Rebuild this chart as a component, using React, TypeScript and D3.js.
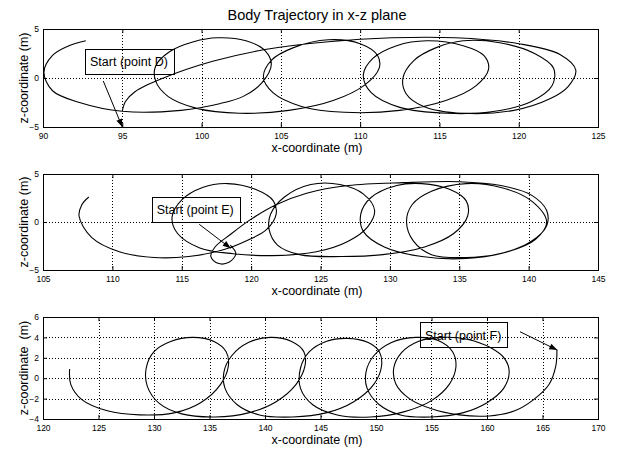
import React, { useEffect, useRef } from "react";
import * as d3 from "d3";

type Pt = [number, number];

const W = 618;
const H = 453;
const FONT = "'Liberation Sans', Arial, Helvetica, sans-serif";

// body path samples, [x, z] in metres
const trajD: Pt[] = [
  [95, -3.4], [95.2, -2.4], [95.8, -1.4], [97.6, 0], [100.7, 1.7], [104, 2.9], [108, 3.7],
  [112, 4.1], [116, 4.1], [120, 3.5], [122.6, 2.4], [123.6, 0.8], [123.1, -0.9], [122, -2.1],
  [119.7, -3.3], [116.5, -3.6], [114, -2.9], [112.9, -1.6], [112.7, 0], [113.4, 1.8],
  [114.8, 3.1], [116.5, 3.8], [118.8, 3.6], [121, 2.5], [122.2, 1.0], [122.1, -0.8],
  [120.8, -2.4], [118.5, -3.4], [115.5, -3.6], [112.5, -3.0], [110.7, -1.5], [110.2, 0.3],
  [110.8, 2.0], [112.3, 3.3], [114.2, 3.8], [116.5, 3.3], [117.8, 2.3], [118.1, 0.9],
  [117.3, -0.8], [115.4, -2.3], [112.5, -3.3], [109, -3.5], [106.3, -2.9], [104.5, -1.5],
  [103.9, 0.1], [104.4, 1.8], [105.8, 3.1], [108, 3.9], [110, 3.5], [111.1, 2.3], [111.2, 1.0],
  [110.3, -0.7], [108.3, -2.3], [105.5, -3.3], [102.4, -3.6], [99.7, -3.1], [97.9, -1.9],
  [97.1, -0.3], [97.1, 1.2], [98, 2.7], [99.5, 3.7], [101, 4.1], [102.8, 3.8], [104, 2.8],
  [104.4, 1.4], [103.8, -0.5], [102.6, -1.9], [101.2, -2.6], [98.7, -3.3], [95, -3.4],
  [92.3, -2.5], [90.6, -1.3], [90.06, 0.6], [90.6, 2.3], [91.5, 3.2], [92.7, 3.8],
];

const trajE: Pt[] = [
  [118.5, -2.4], [118.9, -3.3], [118.4, -4.2], [117.6, -4.3], [117.1, -3.6], [117.4, -2.6],
  [118.5, -1.3], [120, 0.3], [121.8, 1.8], [124, 3.0], [127, 3.8], [131, 4.1], [135, 4.2],
  [138, 3.8], [140.2, 2.8], [141.3, 1.2], [141.3, -0.4], [140.2, -2.0], [138.2, -3.2],
  [135.5, -3.7], [133, -3.4], [131.7, -2], [131.2, 0], [131.6, 1.8], [133, 3.2], [135.5, 4.0],
  [138, 3.6], [140.2, 2.2], [141.3, 0], [140.5, -1.8], [138.5, -3.1], [135.5, -3.8],
  [132.3, -3.6], [129.6, -2.6], [128.1, -1.0], [127.9, 0.8], [128.6, 2.5], [130.5, 3.8],
  [132.3, 4.0], [134.3, 3.4], [135.5, 2.2], [135.6, 0.6], [134.6, -1.2], [132.5, -2.6],
  [129.5, -3.4], [126.5, -3.6], [123.5, -3.4], [121.9, -2.4], [121.3, -0.8], [121.4, 0.8],
  [122.4, 2.6], [124.3, 3.9], [126.4, 3.9], [128.1, 2.9], [128.9, 1.2], [128.4, -0.5],
  [127, -2.0], [124.7, -3.1], [121.5, -3.5], [118.7, -3.3], [116.3, -2.7], [114.7, -1.2],
  [114.3, 0.5], [115, 2.3], [116.5, 3.6], [118.3, 4.0], [120.3, 3.4], [121.6, 2.2],
  [121.8, 0.8], [121.1, -0.8], [119.9, -1.8], [118, -2.9], [115.5, -3.6], [113, -3.7],
  [110.5, -3.1], [108.5, -1.6], [107.6, 0.6], [107.8, 1.8], [108.3, 2.6],
];

const trajF: Pt[] = [
  [166.3, 2.8], [166.2, 1.2], [165.6, -0.6], [164.2, -2.1], [162.5, -3.2], [160.2, -3.7],
  [157.5, -3.6], [155, -3.0], [153, -2], [151.8, -0.6], [151.6, 1.0], [152.3, 2.5],
  [153.8, 3.6], [156, 4.0], [158.3, 3.8], [160.3, 3.0], [161.6, 1.9], [162, 0.6],
  [161.5, -1], [160, -2.4], [157.8, -3.4], [155, -3.8], [152.2, -3.6], [150.3, -2.6],
  [149.2, -1], [149.1, 0.6], [149.8, 2.2], [151.4, 3.5], [153.6, 4.0], [155.6, 3.7],
  [156.9, 2.6], [157.2, 1.1], [156.6, -0.6], [155, -2.2], [152.5, -3.3], [149.5, -3.8],
  [146.5, -3.6], [144.3, -2.6], [143.2, -1.0], [143.2, 1.0], [144, 2.6], [145.5, 3.6],
  [147.4, 3.9], [149.3, 3.5], [150.3, 2.6], [150.5, 1.2], [149.8, -0.6], [148, -2.3],
  [145.5, -3.4], [142.5, -3.8], [139.5, -3.6], [137.5, -2.6], [136.4, -1.0], [136.3, 0.6],
  [137, 2.2], [138.5, 3.5], [140.5, 4.0], [142.4, 3.6], [143.5, 2.6], [143.6, 1.2],
  [142.8, -0.6], [141, -2.3], [138.5, -3.4], [135.5, -3.8], [132.5, -3.5], [130.5, -2.5],
  [129.4, -0.8], [129.3, 1.0], [130, 2.6], [131.5, 3.6], [133.5, 4.0], [135.4, 3.6],
  [136.5, 2.6], [136.7, 1.2], [136, -0.6], [134.2, -2.4], [131.8, -3.4], [128.7, -3.6],
  [125.8, -3.2], [123.5, -2.1], [122.5, -0.6], [122.4, 0.9],
];

const xTicksD = [90, 95, 100, 105, 110, 115, 120, 125];
const xTicksE = [105, 110, 115, 120, 125, 130, 135, 140, 145];
const xTicksF = [120, 125, 130, 135, 140, 145, 150, 155, 160, 165, 170];
const zTicksDE = [-5, 0, 5];
const zTicksF = [-4, -2, 0, 2, 4, 6];

const startLabels = ["Start (point D)", "Start (point E)", "Start (point F)"];
// box top-left, arrow tail and arrow tip, in data units
const boxAt: Pt[] = [[92.65, 2.96], [112.83, 2.64], [153.96, 5.48]];
const arrowTail: Pt[] = [[93.8, -0.3], [116.26, -0.24], [162.97, 4.56]];
const arrowTip: Pt[] = [[95, -5], [118.53, -2.74], [166.33, 2.76]];

const panels = [
  { traj: trajD, xTicks: xTicksD, zTicks: zTicksDE, yLabel: "z-coordinate (m)" },
  { traj: trajE, xTicks: xTicksE, zTicks: zTicksDE, yLabel: "z-coordinate (m)" },
  { traj: trajF, xTicks: xTicksF, zTicks: zTicksF, yLabel: "z-coordinate  (m)" },
];

const layout = [
  { top: 29, bottom: 127 },
  { top: 174, bottom: 270 },
  { top: 317, bottom: 419 },
];

const App = () => {
  const ref = useRef<SVGSVGElement>(null);

  useEffect(() => {
    if (!ref.current) return;
    const svg = d3.select(ref.current);
    svg.selectAll("*").remove();

    svg.append("rect").attr("width", W).attr("height", H).attr("fill", "#fff");

    svg
      .append("text")
      .attr("x", 317)
      .attr("y", 20)
      .attr("text-anchor", "middle")
      .style("font", `14.5px ${FONT}`)
      .text("Body Trajectory in x-z plane");

    const ctx = document.createElement("canvas").getContext("2d")!;
    ctx.font = `12.5px ${FONT}`;

    const left = 43;
    const right = 598;

    panels.forEach((p, i) => {
      const { top, bottom } = layout[i];
      const xd = d3.extent(p.xTicks) as [number, number];
      const zd = d3.extent(p.zTicks) as [number, number];
      const x = d3.scaleLinear().domain(xd).range([left, right]);
      const z = d3.scaleLinear().domain(zd).range([bottom, top]);
      const g = svg.append("g");

      // dotted grid
      g.selectAll(".gx")
        .data(p.xTicks.slice(1, -1))
        .join("line")
        .attr("x1", (d) => Math.round(x(d)) + 0.5)
        .attr("x2", (d) => Math.round(x(d)) + 0.5)
        .attr("y1", top)
        .attr("y2", bottom)
        .attr("stroke", "#000")
        .attr("stroke-width", 1)
        .attr("stroke-dasharray", "1,2");
      g.selectAll(".gz")
        .data(p.zTicks.slice(1, -1))
        .join("line")
        .attr("x1", left)
        .attr("x2", right)
        .attr("y1", (d) => Math.round(z(d)) + 0.5)
        .attr("y2", (d) => Math.round(z(d)) + 0.5)
        .attr("stroke", "#000")
        .attr("stroke-width", 1)
        .attr("stroke-dasharray", "1,2");

      // axes, ticks pointing inward
      const styleAxis = (a: d3.Selection<SVGGElement, unknown, null, undefined>) => {
        a.select(".domain").remove();
        a.selectAll("line").attr("stroke", "#000");
        a.attr("font-family", FONT).attr("font-size", 8.5);
      };
      g.append("g")
        .attr("transform", `translate(0,${bottom})`)
        .call(d3.axisBottom(x).tickValues(p.xTicks).tickSizeInner(-4).tickSizeOuter(0).tickPadding(6).tickFormat(d3.format("d")))
        .call(styleAxis);
      g.append("g")
        .attr("transform", `translate(0,${top})`)
        .call(d3.axisTop(x).tickValues(p.xTicks).tickSizeInner(-4).tickSizeOuter(0).tickFormat(() => ""))
        .call(styleAxis);
      g.append("g")
        .attr("transform", `translate(${left},0)`)
        .call(d3.axisLeft(z).tickValues(p.zTicks).tickSizeInner(-4).tickSizeOuter(0).tickPadding(4).tickFormat(d3.format("d")))
        .call(styleAxis);
      g.append("g")
        .attr("transform", `translate(${right},0)`)
        .call(d3.axisRight(z).tickValues(p.zTicks).tickSizeInner(-4).tickSizeOuter(0).tickFormat(() => ""))
        .call(styleAxis);

      g.append("rect")
        .attr("x", left + 0.5)
        .attr("y", top + 0.5)
        .attr("width", right - left)
        .attr("height", bottom - top)
        .attr("fill", "none")
        .attr("stroke", "#000")
        .attr("stroke-width", 1);

      // trajectory
      const line = d3
        .line<Pt>()
        .x((d) => x(d[0]))
        .y((d) => z(d[1]))
        .curve(d3.curveCatmullRom.alpha(0.5));
      g.append("path")
        .attr("d", line(p.traj))
        .attr("fill", "none")
        .attr("stroke", "#000")
        .attr("stroke-width", 1.1);

      // labels
      g.append("text")
        .attr("x", 317)
        .attr("y", bottom + 24.5)
        .attr("text-anchor", "middle")
        .style("font", `12.5px ${FONT}`)
        .text("x-coordinate (m)");
      g.append("text")
        .attr("transform", `translate(28,${(top + bottom) / 2}) rotate(-90)`)
        .attr("text-anchor", "middle")
        .style("font", `12.5px ${FONT}`)
        .style("white-space", "pre")
        .text(p.yLabel);

      // start annotation
      const label = startLabels[i];
      const bx = x(boxAt[i][0]);
      const by = z(boxAt[i][1]);
      const bw = ctx.measureText(label).width + 11;
      g.append("rect")
        .attr("x", Math.round(bx) + 0.5)
        .attr("y", Math.round(by) + 0.5)
        .attr("width", Math.round(bw))
        .attr("height", 25)
        .attr("fill", "none")
        .attr("stroke", "#000")
        .attr("stroke-width", 1);
      g.append("text")
        .attr("x", bx + 5)
        .attr("y", by + 17.5)
        .style("font", `12.5px ${FONT}`)
        .text(label);

      const [tx0, ty0] = [x(arrowTail[i][0]), z(arrowTail[i][1])];
      const [tx1, ty1] = [x(arrowTip[i][0]), z(arrowTip[i][1])];
      g.append("line")
        .attr("x1", tx0)
        .attr("y1", ty0)
        .attr("x2", tx1)
        .attr("y2", ty1)
        .attr("stroke", "#000")
        .attr("stroke-width", 1);
      const ang = Math.atan2(ty1 - ty0, tx1 - tx0);
      const hl = 8;
      const hw = 3;
      const bxh = tx1 - hl * Math.cos(ang);
      const byh = ty1 - hl * Math.sin(ang);
      const head: Pt[] = [
        [tx1, ty1],
        [bxh + hw * Math.sin(ang), byh - hw * Math.cos(ang)],
        [bxh - hw * Math.sin(ang), byh + hw * Math.cos(ang)],
      ];
      g.append("path")
        .attr("d", d3.line()(head) + "Z")
        .attr("fill", "#000")
        .attr("stroke", "none");
    });
  }, []);

  return <svg ref={ref} width={W} height={H} style={{ position: "absolute", left: 0, top: 0 }} />;
};

export default App;
